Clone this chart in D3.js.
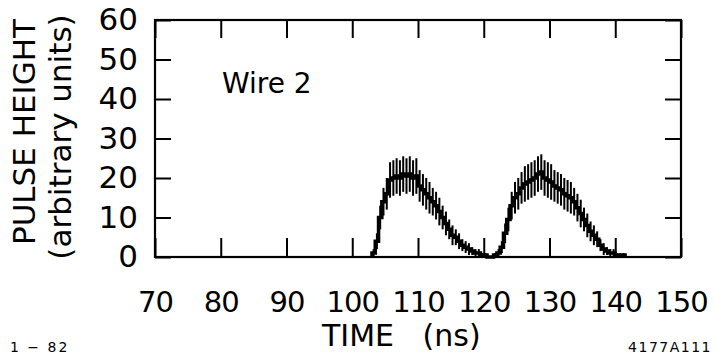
<!DOCTYPE html>
<html>
<head>
<meta charset="utf-8">
<script src="https://cdn.jsdelivr.net/npm/d3@7"></script>
<style>
  html, body { margin: 0; padding: 0; background: #fff; }
  svg { display: block; }
  text { font-family: "DejaVu Sans", sans-serif; fill: #000; }
</style>
</head>
<body>
<svg id="chart" width="715" height="356"></svg>
<script>
// Time axis ticks (ns) and pulse-height ticks
const xTicks = [70, 80, 90, 100, 110, 120, 130, 140, 150];
const yTicks = [0, 10, 20, 30, 40, 50, 60];

// Wire 2 pulse-height histogram: bin left edges (ns), heights, error half-widths
const binTimes = [
  103.0, 103.5, 104.0, 104.5, 105.0, 105.5, 106.0, 106.5, 107.0, 107.5,
  108.0, 108.5, 109.0, 109.5, 110.0, 110.5, 111.0, 111.5, 112.0, 112.5,
  113.0, 113.5, 114.0, 114.5, 115.0, 115.5, 116.0, 116.5, 117.0, 117.5,
  118.0, 118.5, 119.0, 119.5, 120.0, 120.5, 121.0, 121.5, 122.0, 122.5,
  123.0, 123.5, 124.0, 124.5, 125.0, 125.5, 126.0, 126.5, 127.0, 127.5,
  128.0, 128.5, 129.0, 129.5, 130.0, 130.5, 131.0, 131.5, 132.0, 132.5,
  133.0, 133.5, 134.0, 134.5, 135.0, 135.5, 136.0, 136.5, 137.0, 137.5,
  138.0, 138.5, 139.0, 139.5, 140.0, 140.5, 141.0
];
const binEnd = 141.5;
const pulseHeight = [
  1, 4, 10, 14, 16, 19.5, 20, 20.5, 20, 21,
  20.5, 21, 20, 20.5, 18, 17, 16, 15, 14, 13,
  11.5, 10, 8.5, 7, 5.5, 5, 4, 3, 2.5, 2,
  1.5, 1, 1, 0.5, 0.5, 0, 0, 0.5, 1, 2.5,
  6, 9.5, 13, 15, 16, 17.5, 18.5, 19, 19.5, 20,
  21, 21.5, 20, 19.5, 19, 18, 17.5, 17, 16, 15.5,
  15, 14, 12.5, 11, 9.5, 8, 6.5, 5.5, 4.5, 3,
  2, 1.5, 1, 1, 0.5, 0.5, 0.5
];
const pulseError = [
  1, 2, 3, 3.5, 4, 4.5, 4.5, 4.5, 4.5, 4.5,
  4.5, 4.5, 4.5, 4.5, 4, 4, 4, 4, 3.5, 3.5,
  3.5, 3, 3, 2.5, 2.5, 2, 2, 1.5, 1.5, 1.5,
  1, 1, 1, 0.5, 0.5, 0, 0, 0.5, 1, 1.5,
  2.5, 3, 3.5, 4, 4, 4, 4.5, 4.5, 4.5, 4.5,
  4.5, 4.5, 4.5, 4.5, 4.5, 4, 4, 4, 4, 4,
  4, 3.5, 3.5, 3.5, 3, 3, 2.5, 2.5, 2, 1.5,
  1.5, 1, 1, 1, 0.5, 0.5, 0.5
];

const svg = d3.select("#chart");
const plotL = 155, plotR = 681, plotT = 20, plotB = 257;

const x = d3.scaleLinear().domain([70, 150]).range([plotL, plotR]);
const y = d3.scaleLinear().domain([0, 60]).range([plotB, plotT]);

// Axes with inward ticks on all four sides
const axBottom = svg.append("g").attr("transform", `translate(0,${plotB})`)
  .call(d3.axisBottom(x).tickValues(xTicks).tickSize(-19).tickPadding(34).tickFormat(d3.format("d")));
const axTop = svg.append("g").attr("transform", `translate(0,${plotT})`)
  .call(d3.axisTop(x).tickValues(xTicks).tickSize(-18).tickFormat(""));
const axLeft = svg.append("g").attr("transform", `translate(${plotL},0)`)
  .call(d3.axisLeft(y).tickValues(yTicks).tickSize(-16).tickPadding(17).tickFormat(d3.format("d")));
const axRight = svg.append("g").attr("transform", `translate(${plotR},0)`)
  .call(d3.axisRight(y).tickValues(yTicks).tickSize(-16).tickFormat(""));

[axBottom, axTop, axLeft, axRight].forEach(g => {
  g.select(".domain").remove();
  g.selectAll(".tick line").attr("stroke", "#000").attr("stroke-width", 2);
  g.selectAll(".tick text").attr("font-size", 31).attr("font-family", "DejaVu Sans, sans-serif");
});
axBottom.selectAll(".tick text").attr("font-size", 29).attr("letter-spacing", -1);

// Plot frame
svg.append("rect")
  .attr("x", plotL).attr("y", plotT)
  .attr("width", plotR - plotL).attr("height", plotB - plotT)
  .attr("fill", "none").attr("stroke", "#000").attr("stroke-width", 2.2);

// Histogram outline
const pts = [{t: binTimes[0], v: 0}];
binTimes.forEach((t, i) => pts.push({t, v: pulseHeight[i]}));
pts.push({t: binEnd, v: 0});
const line = d3.line().x(d => x(d.t)).y(d => y(d.v)).curve(d3.curveStepAfter);
svg.append("path")
  .attr("d", line(pts))
  .attr("fill", "none").attr("stroke", "#000").attr("stroke-width", 3.5)
  .attr("stroke-linejoin", "miter");

// Error bars at bin centres
const binW = binTimes[1] - binTimes[0];
svg.append("g").selectAll("line")
  .data(binTimes.map((t, i) => ({c: t + binW / 2, v: pulseHeight[i], e: pulseError[i]})).filter(d => d.e > 0))
  .join("line")
  .attr("x1", d => x(d.c)).attr("x2", d => x(d.c))
  .attr("y1", d => y(d.v - d.e)).attr("y2", d => y(d.v + d.e))
  .attr("stroke", "#000").attr("stroke-width", 2);

// Labels
svg.append("text").attr("x", 222).attr("y", 93).attr("font-size", 28).text("Wire 2");

svg.append("text")
  .attr("transform", "translate(35,132) rotate(-90)")
  .attr("text-anchor", "middle").attr("font-size", 31)
  .text("PULSE HEIGHT");
svg.append("text")
  .attr("transform", "translate(71,137) rotate(-90)")
  .attr("text-anchor", "middle").attr("font-size", 31)
  .text("(arbitrary units)");

svg.append("text").attr("x", 322).attr("y", 346).attr("font-size", 30)
  .attr("xml:space", "preserve").text("TIME   (ns)");

svg.append("text").attr("x", 10).attr("y", 352).attr("font-size", 14)
  .attr("letter-spacing", 2).text("1 − 82");
svg.append("text").attr("x", 712).attr("y", 352).attr("font-size", 14)
  .attr("text-anchor", "end").attr("letter-spacing", 1.5).text("4177A111");
</script>
</body>
</html>
